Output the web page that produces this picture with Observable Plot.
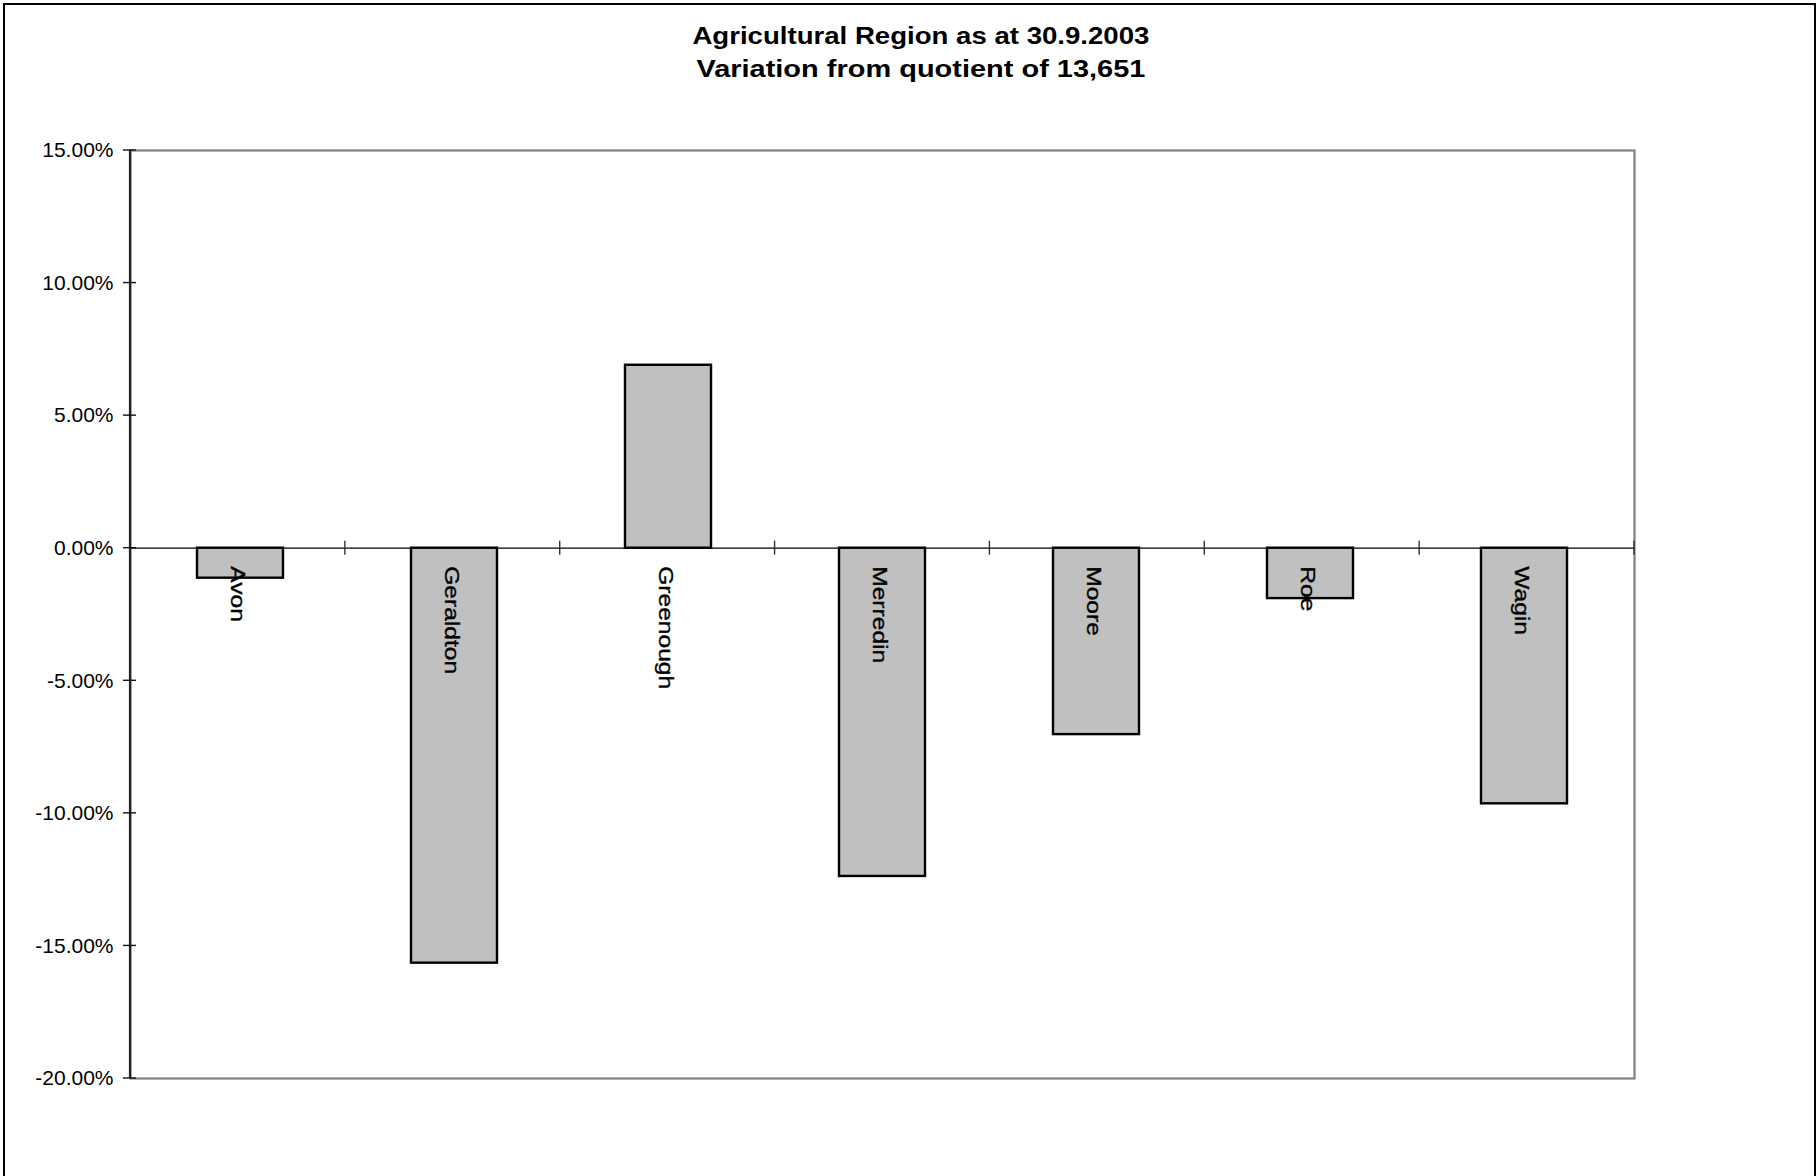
<!DOCTYPE html>
<html>
<head>
<meta charset="utf-8">
<script src="https://cdn.jsdelivr.net/npm/d3@7"></script>
<script src="https://cdn.jsdelivr.net/npm/@observablehq/plot@0.6"></script>
<style>
  html, body { margin:0; padding:0; background:#fff; width:1820px; height:1176px; overflow:hidden;
    font-family:"Liberation Sans", Arial, sans-serif; }
  #border { position:absolute; left:3px; top:3px; width:1813px; height:1260px; border:2px solid #000; box-sizing:border-box; }
  .title { position:absolute; left:0; width:1842px; text-align:center; font-weight:bold; font-size:24.5px;
    line-height:33px; color:#000; white-space:nowrap; }
  .title span { display:inline-block; transform-origin:center; }
  #chart { position:absolute; left:0; top:90px; }
</style>
</head>
<body>
<div id="border"></div>
<div class="title" id="t1" style="top:19px"><span></span></div>
<div class="title" id="t2" style="top:52px"><span></span></div>
<div id="chart"></div>
<script>
const titleLines = ["Agricultural Region as at 30.9.2003", "Variation from quotient of 13,651"];
const regions = ["Avon", "Geraldton", "Greenough", "Merredin", "Moore", "Roe", "Wagin"];
const variation = [-0.0113, -0.1565, 0.0690, -0.1238, -0.0703, -0.0190, -0.0964];
const yTicks = [0.15, 0.10, 0.05, 0, -0.05, -0.10, -0.15, -0.20];
const yTickLabels = ["15.00%", "10.00%", "5.00%", "0.00%", "-5.00%", "-10.00%", "-15.00%", "-20.00%"];

const data = regions.map((r, i) => ({region: r, value: variation[i]}));
const labelOf = new Map(yTicks.map((t, i) => [t, yTickLabels[i]]));

// title
const titleWidths = [457, 449];
["t1", "t2"].forEach((id, i) => {
  const span = document.querySelector("#" + id + " span");
  span.textContent = titleLines[i];
  const w = span.getBoundingClientRect().width;
  span.style.transform = `scaleX(${titleWidths[i] / w})`;
});

// axis lines and crossing ticks, derived from scales and layout
function axisDecor(index, scales, values, dims) {
  const ns = "http://www.w3.org/2000/svg";
  const g = document.createElementNS(ns, "g");
  const y = scales.y;
  const x0 = dims.marginLeft, x1 = dims.width - dims.marginRight;
  const ext = d3.extent(yTicks);
  const line = (a, b, c, d, stroke, sw) => {
    const l = document.createElementNS(ns, "line");
    l.setAttribute("x1", a); l.setAttribute("y1", b);
    l.setAttribute("x2", c); l.setAttribute("y2", d);
    l.setAttribute("stroke", stroke); l.setAttribute("stroke-width", sw);
    g.appendChild(l);
  };
  line(x0, y(ext[1]), x0, y(ext[0]), "#222", 2.2);
  for (const t of yTicks) line(x0 - 7, y(t), x0 + 6, y(t), "#111", 1.4);
  const step = (x1 - x0) / regions.length;
  for (let i = 1; i <= regions.length; i++) {
    const xx = x0 + i * step;
    line(xx, y(0) - 7, xx, y(0) + 7, "#333", 1.4);
  }
  return g;
}

const plot = Plot.plot({
  width: 1820,
  height: 1086,
  marginLeft: 130,
  marginRight: 186,
  marginTop: 60,
  marginBottom: 98,
  style: {fontFamily: "Liberation Sans, Arial, sans-serif", fontSize: "21px", background: "transparent", overflow: "visible", color: "#000"},
  x: {domain: regions, paddingInner: 0.6, paddingOuter: 0.3, axis: null},
  y: {domain: [-0.20, 0.15], ticks: yTicks, tickFormat: d => labelOf.get(d), tickSize: 0, tickPadding: 17, label: null},
  marks: [
    Plot.frame({stroke: "#808080", strokeWidth: 2.2}),
    Plot.ruleY([0], {stroke: "#000", strokeWidth: 1.2}),
    Plot.barY(data, {x: "region", y: "value", fill: "#c0c0c0", stroke: "#000", strokeWidth: 2.4}),
    axisDecor,
    Plot.text(data, {x: "region", y: 0, text: "region", rotate: 90, textAnchor: "start", lineAnchor: "middle",
      dx: -3, dy: 18, fontSize: 21, fill: "#000", stroke: "#000", strokeWidth: 0.35})
  ]
});
document.getElementById("chart").appendChild(plot);

// stretch category labels to the wide rendering of the original
plot.querySelectorAll('g[aria-label="text"] text').forEach(t => {
  const len = t.getComputedTextLength();
  t.setAttribute("textLength", (len * 1.17).toFixed(1));
  t.setAttribute("lengthAdjust", "spacingAndGlyphs");
});
</script>
</body>
</html>
